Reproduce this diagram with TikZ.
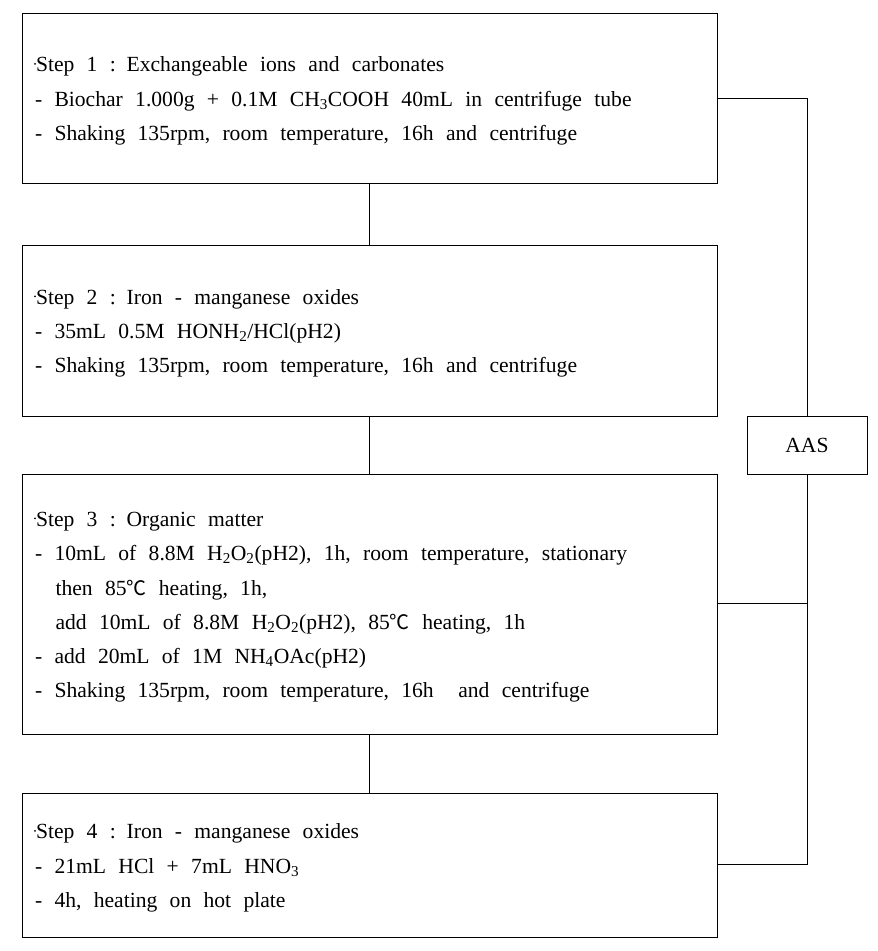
\documentclass[tikz,border=0pt]{standalone}
\usepackage{fontspec}
\setmainfont{Liberation Serif}
\newfontfamily\cjk{Noto Sans CJK SC}
\newcommand{\degc}{{\cjk\fontsize{20}{20}\selectfont ℃}}
\newcommand{\sbs}[1]{\textsubscript{#1}}
\newcommand{\dotmark}{\rule{0pt}{21pt}\kern-1pt\raisebox{7pt}{\tikz\fill (0,0) circle (1pt);}}
\newcommand{\widesp}{\spaceskip=0.57em plus 0.1em\relax}
\begin{document}
\begin{tikzpicture}[x=1pt,y=-1pt,
  stepbox/.style={draw,line width=1pt,minimum width=695pt,text width=669pt,
    inner xsep=13pt,inner ysep=0pt,align=left,
    font=\fontsize{21.6}{34.3}\selectfont},
  aasbox/.style={draw,line width=1pt,minimum width=120pt,minimum height=58pt,
    font=\fontsize{21.6}{24}\selectfont},
  link/.style={line width=1pt}]
\useasboundingbox (0,0) rectangle (878,951);
\node[stepbox,minimum height=170pt] (b1) at (369.5,98) {\widesp\dotmark Step 1 : Exchangeable ions and carbonates\\
- Biochar 1.000g + 0.1M CH\sbs{3}COOH 40mL in centrifuge tube\\
- Shaking 135rpm, room temperature, 16h and centrifuge};
\node[stepbox,minimum height=171pt] (b2) at (369.5,330.5) {\widesp\dotmark Step 2 : Iron - manganese oxides\\
- 35mL 0.5M HONH\sbs{2}/HCl(pH2)\\
- Shaking 135rpm, room temperature, 16h and centrifuge};
\node[stepbox,minimum height=260pt] (b3) at (369.5,604) {\widesp\dotmark Step 3 : Organic matter\\
- 10mL of 8.8M H\sbs{2}O\sbs{2}(pH2), 1h, room temperature, stationary\\
\hspace*{0.95em}then 85\degc{} heating, 1h,\\
\hspace*{0.95em}add 10mL of 8.8M H\sbs{2}O\sbs{2}(pH2), 85\degc{} heating, 1h\\
- add 20mL of 1M NH\sbs{4}OAc(pH2)\\
- Shaking 135rpm, room temperature, 16h\ \ and centrifuge};
\node[stepbox,minimum height=144pt] (b4) at (369.5,865) {\widesp\dotmark Step 4 : Iron - manganese oxides\\
- 21mL HCl + 7mL HNO\sbs{3}\\
- 4h, heating on hot plate};
\node[aasbox] (aas) at (807,445) {AAS};
\draw[link] (b1) -- (b2);
\draw[link] (b2) -- (b3);
\draw[link] (b3) -- (b4);
\draw[link] (b1.east) -| (aas.north);
\draw[link] ([yshift=1pt]b3.east) -| (aas.south);
\draw[link] ([yshift=1pt]b4.east) -| (aas.south);
\end{tikzpicture}
\end{document}
